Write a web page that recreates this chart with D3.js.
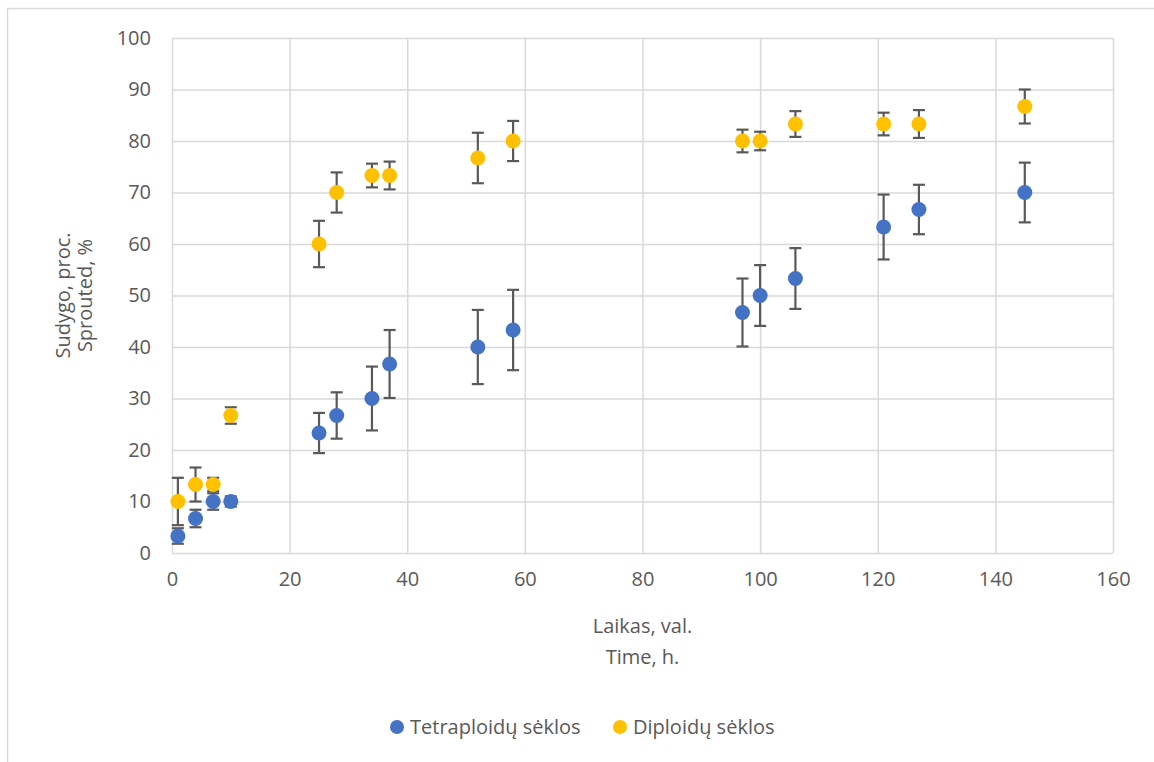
<!DOCTYPE html>
<html>
<head>
<meta charset="utf-8">
<script src="https://cdn.jsdelivr.net/npm/d3@7"></script>
<style>
  body { margin: 0; background: #fff; }
  text { font-family: "Open Sans", "Noto Sans", sans-serif; fill: #595959; }
</style>
</head>
<body>
<div id="plot"></div>
<script>
// Chart data
var timeTetra = [1, 4, 7, 10, 25, 28, 34, 37, 52, 58, 97, 100, 106, 121, 127, 145];
var tetraValues = [3.3, 6.7, 10, 10, 23.3, 26.7, 30, 36.7, 40, 43.3, 46.7, 50, 53.3, 63.3, 66.7, 70];
var tetraErrors = [1.5, 1.7, 1.6, 1.0, 3.9, 4.5, 6.2, 6.6, 7.2, 7.8, 6.6, 5.9, 5.9, 6.3, 4.8, 5.8];

var timeDiplo = [1, 4, 7, 10, 25, 28, 34, 37, 52, 58, 97, 100, 106, 121, 127, 145];
var diploValues = [10, 13.3, 13.3, 26.7, 60, 70, 73.3, 73.3, 76.7, 80, 80, 80, 83.3, 83.3, 83.3, 86.7];
var diploErrors = [4.6, 3.3, 1.3, 1.6, 4.5, 3.9, 2.3, 2.7, 4.9, 3.9, 2.2, 1.8, 2.5, 2.2, 2.7, 3.3];

var xTicks = [0, 20, 40, 60, 80, 100, 120, 140, 160];
var yTicks = [0, 10, 20, 30, 40, 50, 60, 70, 80, 90, 100];

var seriesNames = ["Tetraploidų sėklos", "Diploidų sėklos"];
var seriesColors = ["#4472C4", "#FFC000"];

// SVG area
var svgWidth = 1154;
var svgHeight = 762;

var margin = { top: 38, right: 41, bottom: 209, left: 172 };
var chartWidth = svgWidth - margin.left - margin.right;
var chartHeight = svgHeight - margin.top - margin.bottom;

var svg = d3.select("#plot")
  .append("svg")
  .attr("width", svgWidth)
  .attr("height", svgHeight);

// outer chart border (runs off the right/bottom edge)
svg.append("rect")
  .attr("x", 7.5)
  .attr("y", 8.5)
  .attr("width", 1200)
  .attr("height", 800)
  .attr("fill", "none")
  .attr("stroke", "#d9d9d9")
  .attr("stroke-width", 1.5);

var chartGroup = svg.append("g")
  .attr("transform", `translate(${margin.left}, ${margin.top})`);

var xScale = d3.scaleLinear().domain([0, 160]).range([0, chartWidth]);
var yScale = d3.scaleLinear().domain([0, 100]).range([chartHeight, 0]);

// gridlines
chartGroup.append("g")
  .call(d3.axisLeft(yScale).tickValues(yTicks).tickSize(-chartWidth).tickFormat(""))
  .call(g => g.select(".domain").remove())
  .selectAll("line")
  .attr("stroke", "#d9d9d9")
  .attr("stroke-width", 1.5);

chartGroup.append("g")
  .attr("transform", "translate(0, " + chartHeight + ")")
  .call(d3.axisBottom(xScale).tickValues(xTicks).tickSize(-chartHeight).tickFormat(""))
  .call(g => g.select(".domain").remove())
  .selectAll("line")
  .attr("stroke", "#d9d9d9")
  .attr("stroke-width", 1.5);

// tick labels
var leftAxis = chartGroup.append("g")
  .call(d3.axisLeft(yScale).tickValues(yTicks).tickSize(0).tickPadding(21));
leftAxis.select(".domain").remove();
leftAxis.selectAll("text")
  .style("font-size", "20px")
  .style("font-family", "'Open Sans', sans-serif")
  .attr("fill", "#595959");

var bottomAxis = chartGroup.append("g")
  .attr("transform", "translate(0, " + chartHeight + ")")
  .call(d3.axisBottom(xScale).tickValues(xTicks).tickSize(0).tickPadding(19));
bottomAxis.select(".domain").remove();
bottomAxis.selectAll("text")
  .style("font-size", "20px")
  .style("font-family", "'Open Sans', sans-serif")
  .attr("fill", "#595959");

// axis titles
var xTitle = chartGroup.append("text")
  .attr("x", chartWidth / 2)
  .attr("y", chartHeight + 80)
  .style("text-anchor", "middle")
  .style("font-size", "20px");
xTitle.append("tspan").attr("x", chartWidth / 2).text("Laikas, val.");
xTitle.append("tspan").attr("x", chartWidth / 2).attr("dy", 31).text("Time, h.");

var yTitle = chartGroup.append("text")
  .attr("transform", "rotate(-90)")
  .attr("x", -chartHeight / 2)
  .attr("y", -102)
  .style("text-anchor", "middle")
  .style("font-size", "20px");
yTitle.append("tspan").attr("x", -chartHeight / 2).text("Sudygo, proc.");
yTitle.append("tspan").attr("x", -chartHeight / 2).attr("dy", 22).text("Sprouted, %");

// series
var series = [
  { times: timeTetra, values: tetraValues, errors: tetraErrors },
  { times: timeDiplo, values: diploValues, errors: diploErrors }
];

series.forEach(function(s, i) {
  var rows = s.times.map((t, k) => ({ t: t, v: s.values[k], e: s.errors[k] }));
  var g = chartGroup.append("g");

  var bars = g.selectAll(".err")
    .data(rows)
    .enter()
    .append("g")
    .attr("stroke", "#595959")
    .attr("stroke-width", 2.2);
  bars.append("line")
    .attr("x1", d => xScale(d.t)).attr("x2", d => xScale(d.t))
    .attr("y1", d => yScale(d.v + d.e)).attr("y2", d => yScale(d.v - d.e));
  bars.append("line")
    .attr("x1", d => xScale(d.t) - 6).attr("x2", d => xScale(d.t) + 6)
    .attr("y1", d => yScale(d.v + d.e)).attr("y2", d => yScale(d.v + d.e));
  bars.append("line")
    .attr("x1", d => xScale(d.t) - 6).attr("x2", d => xScale(d.t) + 6)
    .attr("y1", d => yScale(d.v - d.e)).attr("y2", d => yScale(d.v - d.e));

  g.selectAll("circle")
    .data(rows)
    .enter()
    .append("circle")
    .attr("cx", d => xScale(d.t))
    .attr("cy", d => yScale(d.v))
    .attr("r", 7.5)
    .attr("fill", seriesColors[i]);
});

// legend
var legendX = [397, 620];
var legend = svg.append("g");
seriesNames.forEach(function(name, i) {
  legend.append("circle")
    .attr("cx", legendX[i])
    .attr("cy", 727)
    .attr("r", 7)
    .attr("fill", seriesColors[i]);
  legend.append("text")
    .attr("x", legendX[i] + 13)
    .attr("y", 727)
    .attr("dy", "0.35em")
    .style("font-size", "20px")
    .text(name);
});
</script>
</body>
</html>
